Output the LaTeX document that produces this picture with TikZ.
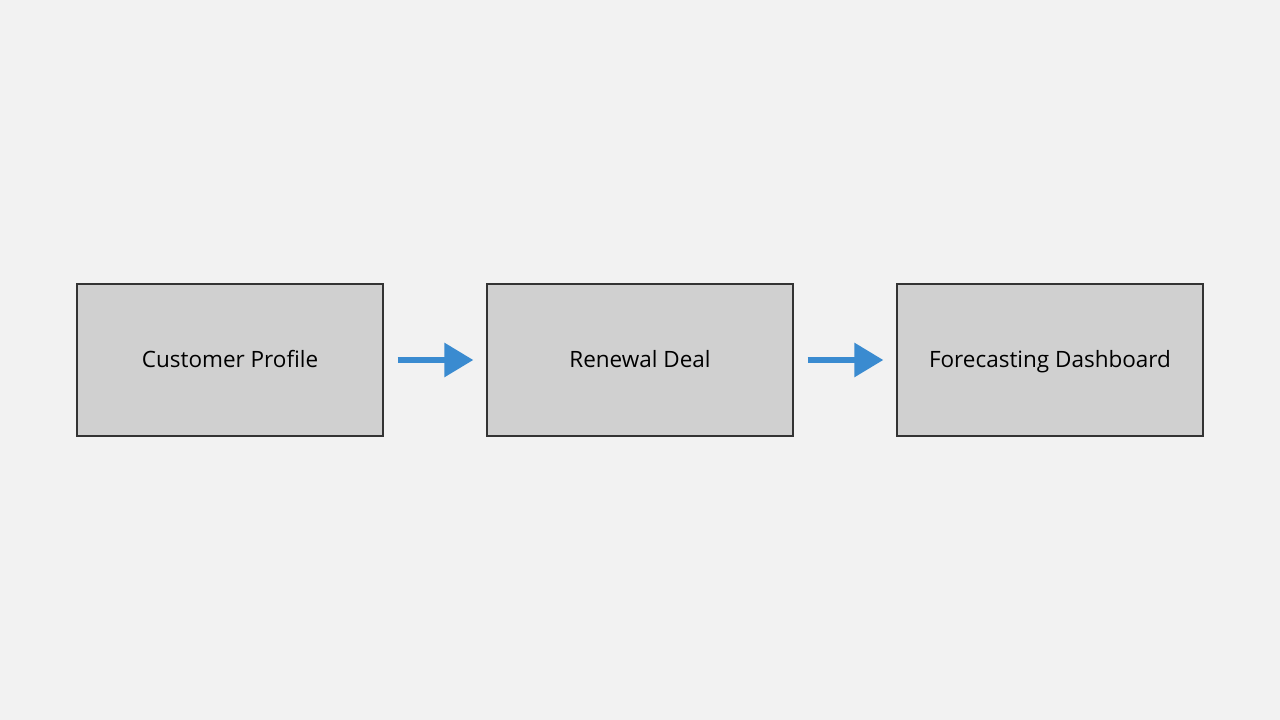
\documentclass[tikz,border=0pt]{standalone}
\usepackage{fontspec}
\setmainfont{Open Sans}
\usetikzlibrary{arrows.meta}
\definecolor{bgcol}{HTML}{F2F2F2}
\definecolor{boxfill}{HTML}{D0D0D0}
\definecolor{boxline}{HTML}{333333}
\definecolor{arrowblue}{HTML}{3A8BD0}
\tikzset{
  box/.style={draw=boxline, fill=boxfill, line width=1.3pt, minimum width=306pt,
    minimum height=152pt, inner sep=0pt, text height=16pt, text depth=0pt,
    font=\fontsize{22.5pt}{27pt}\selectfont},
  flow/.style={draw=arrowblue, line width=6pt, shorten <=14pt, shorten >=13pt,
    -{Triangle[length=29pt,width=33pt]}}
}
\begin{document}
\begin{tikzpicture}[x=1pt,y=1pt]
      \fill[bgcol] (0,0) rectangle (1280,720);
      \useasboundingbox (0,0) rectangle (1280,720);
      \draw
        (230,360) node[box] (profile){Customer Profile}
        (640,360) node[box] (deal){Renewal Deal}
        (1050,360) node[box] (dash){Forecasting Dashboard};
      \begin{scope}[flow]
        \draw (profile.east) to (deal.west);
        \draw (deal.east) to (dash.west);
      \end{scope}
    \end{tikzpicture}
\end{document}
